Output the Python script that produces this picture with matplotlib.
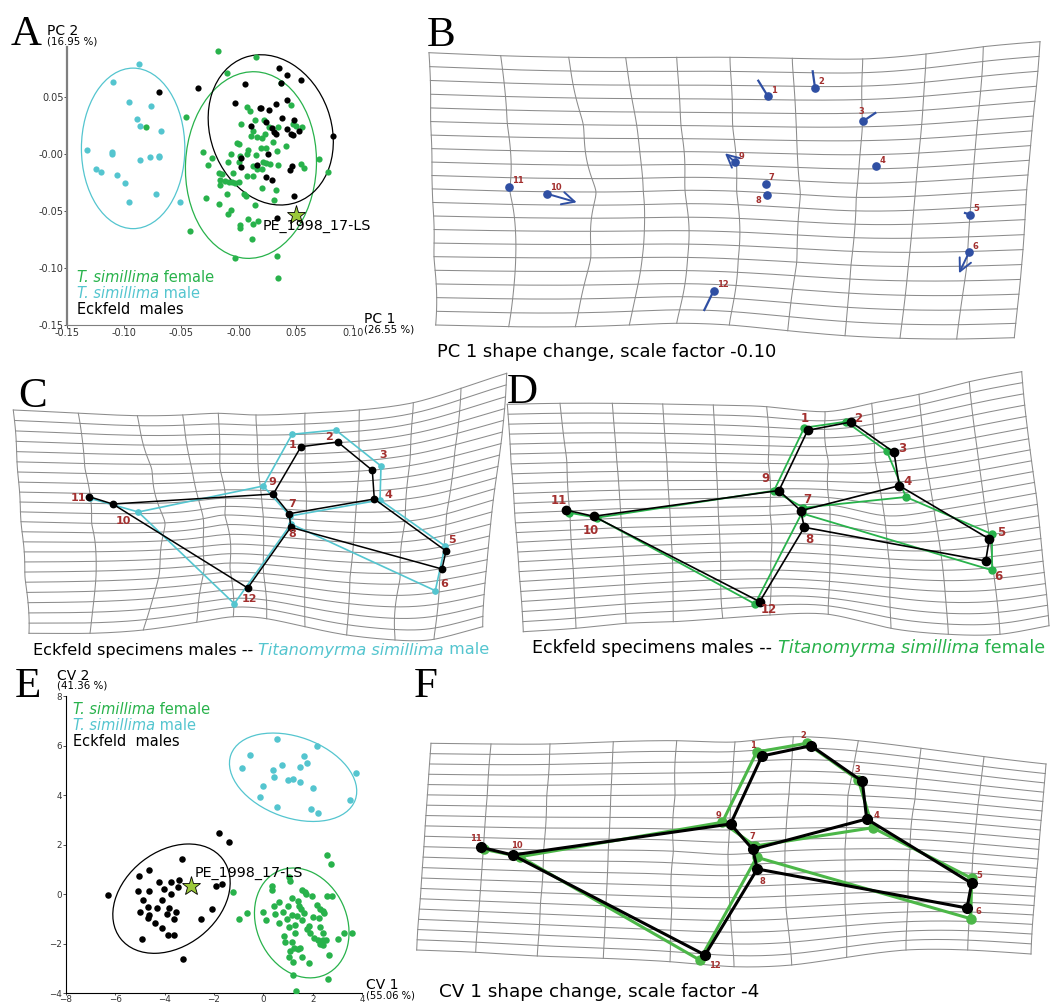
import numpy as np
import matplotlib.pyplot as plt
from matplotlib.patches import Ellipse

W, H = 1059, 1006

GREEN = '#28b24b'
GREEN_F = '#4cb748'
CYAN = '#54c5cf'
BLUE = '#2f4fa3'
RED = '#a3302f'
GRID = '#8c8c8c'
STAR = '#9bc83a'

# ---------------- A : PCA scores ----------------
pca_fem_x = [-0.0184, 0.0152, -0.0105, 0.0368, -0.0458, 0.0070, 0.0099, 0.0455, 0.0018, 0.0146,
             0.0219, 0.0268, 0.0347, 0.0473, 0.0505, 0.0557, 0.0123, 0.0111, 0.0160, 0.0201,
             0.0230, 0.0298, 0.0411, -0.0018, 0.0000, 0.0195, 0.0239, 0.0085, 0.0070, 0.0152,
             0.0335, -0.0070, 0.0012, -0.0312, -0.0233, -0.0265, -0.0090, 0.0006, 0.0216, 0.0236,
             0.0271, 0.0347, 0.0543, 0.0569, 0.0706, 0.0782, -0.0172, -0.0149, -0.0047, 0.0125,
             0.0158, 0.0070, 0.0123, 0.0201, -0.0163, -0.0117, -0.0061, -0.0029, -0.0085, 0.0006,
             0.0207, 0.0330, -0.0166, -0.0102, 0.0050, 0.0064, -0.0289, -0.0172, 0.0143, 0.0306,
             -0.0070, -0.0093, 0.0082, 0.0166, 0.0009, 0.0009, 0.0123, 0.0117, -0.0426, -0.0029,
             0.0335, 0.0341, -0.0811]
pca_fem_y = [0.0902, 0.0849, 0.0706, 0.0619, 0.0324, 0.0406, 0.0371, 0.0426, 0.0257, 0.0292,
             0.0292, 0.0236, 0.0234, 0.0263, 0.0239, 0.0236, 0.0201, 0.0152, 0.0143, 0.0137,
             0.0172, 0.0102, 0.0064, 0.0093, 0.0085, 0.0053, 0.0053, 0.0035, -0.0006, -0.0012,
             0.0023, -0.0006, -0.0018, 0.0012, -0.0038, -0.0099, -0.0073, -0.0070, -0.0070, -0.0079,
             -0.0088, -0.0102, -0.0088, -0.0126, -0.0044, -0.0158, -0.0169, -0.0175, -0.0172, -0.0111,
             -0.0134, -0.0193, -0.0193, -0.0131, -0.0231, -0.0236, -0.0245, -0.0260, -0.0248, -0.0248,
             -0.0304, -0.0315, -0.0274, -0.0356, -0.0353, -0.0368, -0.0391, -0.0438, -0.0450, -0.0403,
             -0.0496, -0.0528, -0.0572, -0.0587, -0.0625, -0.0654, -0.0619, -0.0747, -0.0680, -0.0911,
             -0.0899, -0.1086, 0.0231]
pca_male_x = [-0.0872, -0.1097, -0.0954, -0.0767, -0.0887, -0.0863, -0.0680, -0.1324, -0.1111, -0.1111,
              -0.0858, -0.0776, -0.0694, -0.0694, -0.1243, -0.1199, -0.1059, -0.0995, -0.0723, -0.0954,
              -0.0510]
pca_male_y = [0.0788, 0.0625, 0.0450, 0.0415, 0.0304, 0.0239, 0.0196, 0.0029, 0.0012, -0.0006,
              -0.0055, -0.0029, -0.0018, -0.0029, -0.0131, -0.0158, -0.0190, -0.0257, -0.0356, -0.0420,
              -0.0426]
pca_eck_x = [-0.0694, -0.0356, 0.0055, 0.0356, 0.0426, 0.0545, 0.0368, -0.0035, 0.0187, 0.0198,
             0.0330, 0.0420, 0.0268, 0.0379, 0.0484, 0.0108, 0.0242, 0.0292, 0.0309, 0.0327,
             0.0420, 0.0455, 0.0478, 0.0528, 0.0828, 0.0023, 0.0160, 0.0020, 0.0260, 0.0467,
             0.0449, 0.0236, 0.0295, 0.0484, 0.0338]
pca_eck_y = [0.0543, 0.0578, 0.0613, 0.0750, 0.0689, 0.0642, 0.0622, 0.0447, 0.0397, 0.0403,
             0.0432, 0.0473, 0.0379, 0.0315, 0.0292, 0.0242, 0.0274, 0.0222, 0.0193, 0.0169,
             0.0216, 0.0169, 0.0166, 0.0196, 0.0152, -0.0041, -0.0099, -0.0117, 0.0000, -0.0111,
             -0.0146, -0.0204, -0.0234, -0.0371, -0.0560]
pca_star = (0.0502, -0.0534)
pca_xticks = [-0.15, -0.10, -0.05, 0.0, 0.05, 0.10]
pca_xlabels = ['-0.15', '-0.10', '-0.05', '-0.00', '0.05', '0.10']
pca_yticks = [-0.15, -0.10, -0.05, 0.0, 0.05]
pca_ylabels = ['-0.15', '-0.10', '-0.05', '-0.00', '0.05']
# confidence ellipses: centre x, centre y, width, height, angle
pca_ell_male = (-0.0922, 0.0047, 0.0904, 0.1406, 0)
pca_ell_fem = (0.0108, -0.0099, 0.1144, 0.1636, -3)
pca_ell_eck = (0.0281, 0.0209, 0.1056, 0.1347, 20)

# ---------------- E : CVA scores ----------------
cva_fem_x = [2.58, 2.74, 1.02, 1.07, 0.35, 0.35, -1.23, 1.56, 1.67, 1.73, 1.98, 2.59, 2.79, 1.16,
             1.39, 1.44, 0.61, 1.00, 0.42, 1.54, 2.16, 2.27, 2.39, 2.46, 1.66, 0.47, -0.01, -0.67,
             -0.98, 0.12, 0.81, 1.15, 1.35, 2.01, 2.23, 0.97, 1.58, 0.65, 1.29, 1.86, 1.77, 1.02,
             2.27, 1.89, 1.27, 0.85, 2.41, 2.05, 2.21, 2.33, 2.43, 2.53, 2.27, 2.40, 3.01, 3.26,
             3.60, 0.86, 1.15, 1.25, 1.38, 1.48, 1.08, 1.04, 1.55, 2.64, 1.19, 1.83, 1.19, 2.60, 1.31]
cva_fem_y = [1.60, 1.22, 0.69, 0.55, 0.34, 0.15, 0.08, 0.15, 0.08, 0.01, -0.09, -0.07, -0.09, -0.17,
             -0.27, -0.46, -0.32, -0.46, -0.47, -0.58, -0.44, -0.58, -0.66, -0.74, -0.77, -0.81, -0.70, -0.77,
             -1.00, -1.04, -0.71, -0.83, -0.87, -0.92, -0.97, -1.01, -1.06, -1.18, -1.25, -1.27, -1.39, -1.31,
             -1.31, -1.55, -1.56, -1.70, -1.57, -1.75, -1.86, -1.98, -1.84, -1.84, -2.03, -2.06, -1.79, -1.55,
             -1.57, -1.94, -1.94, -2.17, -2.21, -2.17, -2.31, -2.53, -2.53, -2.44, -2.72, -2.79, -3.27, -3.42, -3.92]
cva_male_x = [0.55, 2.18, -0.55, 1.63, 1.75, 0.77, 1.48, -0.85, 0.38, 0.43, 3.74, 1.00, 1.19, 1.48,
              0.00, 2.00, -0.15, 0.54, 1.94, 2.21, 3.49]
cva_male_y = [6.27, 5.98, 5.61, 5.57, 5.28, 5.21, 5.14, 5.10, 5.02, 4.75, 4.90, 4.60, 4.67, 4.51,
              4.35, 4.28, 3.94, 3.51, 3.45, 3.26, 3.80]
cva_eck_x = [-6.30, -5.03, -4.65, -5.07, -4.65, -4.88, -4.98, -4.67, -4.62, -4.66, -4.90, -4.23, -4.02,
             -4.11, -4.29, -4.37, -4.11, -3.91, -3.88, -3.61, -3.61, -3.82, -3.74, -3.74, -3.53, -3.47,
             -3.40, -3.30, -3.26, -2.51, -2.10, -1.93, -1.69, -1.78, -1.40]
cva_eck_y = [-0.03, 0.75, 0.97, 0.11, 0.11, -0.23, -0.73, -0.50, -0.85, -0.96, -1.80, 0.48, 0.22,
             -0.23, -0.55, -1.18, -1.35, -0.81, -1.66, -1.66, -1.02, -0.54, 0.00, 0.48, -0.70, 0.30,
             0.58, 1.41, -2.61, -1.01, -0.61, 0.32, 0.40, 2.46, 2.11]
cva_star = (-2.94, 0.34)
cva_ticks_x = [-8, -6, -4, -2, 0, 2, 4]
cva_ticks_y = [-4, -2, 0, 2, 4, 6, 8]
cva_ell_male = (1.20, 4.72, 5.35, 3.26, -20)
cva_ell_fem = (1.55, -1.16, 3.64, 4.59, 25)
cva_ell_eck = (-3.72, -0.18, 5.23, 3.83, 38)

# ---------------- landmark configurations (figure pixels), landmarks 1..12 ----------------
LINKS = [(11, 10), (10, 9), (9, 1), (1, 2), (2, 3), (3, 4), (4, 7), (9, 7), (7, 8), (8, 12),
         (12, 10), (4, 5), (5, 6), (6, 8)]

b_x = [767.7, 815.0, 863.3, 876.3, 970.3, 969.0, 765.7, 766.7, 735.3, 546.7, 509.3, 713.7]
b_y = [96.0, 87.7, 121.0, 166.3, 214.7, 252.3, 184.3, 194.7, 162.3, 193.7, 186.7, 290.7]
b_end_x = [758.3, 812.7, 875.3, 878.0, 965.0, 959.0, 765.7, 766.7, 725.0, 576.7, 509.3, 704.3]
b_end_y = [80.7, 71.3, 113.0, 165.3, 213.0, 273.3, 184.3, 194.7, 153.3, 202.3, 186.7, 310.0]
b_arrows = [6, 9, 10]

c_blk_x = [301.0, 337.7, 372.3, 374.3, 446.0, 442.0, 289.3, 290.7, 273.3, 112.7, 89.3, 247.7]
c_blk_y = [446.7, 442.0, 470.3, 499.0, 551.0, 569.0, 513.7, 527.3, 494.0, 504.0, 496.7, 588.0]
c_cyn_x = [292.0, 335.7, 381.0, 380.0, 445.0, 435.3, 290.0, 291.0, 263.3, 138.3, 90.0, 234.3]
c_cyn_y = [434.3, 430.0, 466.0, 500.0, 546.0, 590.7, 516.0, 524.0, 486.0, 512.0, 498.3, 603.7]

d_blk_x = [807.7, 851.0, 894.0, 899.3, 989.3, 985.7, 800.7, 804.3, 779.0, 593.7, 565.7, 759.7]
d_blk_y = [430.3, 422.0, 452.3, 485.7, 539.0, 561.0, 510.7, 527.3, 490.5, 516.3, 510.0, 601.7]
d_grn_x = [804.3, 846.0, 886.7, 906.0, 992.3, 992.3, 803.3, 801.7, 774.0, 596.7, 569.0, 755.0]
d_grn_y = [427.7, 421.7, 451.0, 497.0, 534.3, 570.3, 507.7, 513.3, 490.7, 517.7, 512.7, 604.0]

f_blk_x = [762.0, 811.0, 862.3, 866.7, 971.7, 967.0, 752.7, 757.3, 730.5, 512.7, 481.0, 705.0]
f_blk_y = [756.0, 745.7, 781.3, 819.0, 883.3, 908.0, 849.3, 869.0, 824.0, 855.0, 847.3, 955.0]
f_grn_x = [756.7, 806.7, 858.3, 872.7, 971.7, 970.7, 755.0, 756.7, 722.3, 520.0, 483.7, 699.7]
f_grn_y = [752.0, 743.3, 780.0, 827.7, 878.3, 918.7, 846.0, 857.3, 822.3, 856.7, 849.3, 960.0]

# ---------------- deformation grids: node positions on 11 grid columns ----------------
# x at 5 heights (top, 1/4, 1/2, 3/4, bottom), y at 3 heights (top, middle, bottom)
b_grid_x = [[429.0, 500.7, 568.7, 625.7, 676.7, 730.0, 792.3, 862.7, 926.0, 983.3, 1040.0],
            [430.7, 507.3, 583.3, 636.7, 681.0, 732.7, 796.3, 862.3, 921.7, 977.7, 1033.3],
            [432.3, 510.0, 596.0, 643.3, 685.0, 736.7, 800.3, 856.3, 915.0, 971.7, 1026.7],
            [434.0, 515.7, 590.7, 642.3, 687.7, 738.3, 796.7, 851.0, 908.3, 966.7, 1021.7],
            [435.7, 508.7, 575.3, 629.3, 676.7, 729.3, 787.7, 845.0, 900.0, 956.7, 1014.3]]
b_grid_y = [[52.7, 55.7, 57.3, 57.7, 57.3, 57.3, 58.3, 59.0, 54.0, 46.7, 41.7],
            [188.9, 191.2, 192.0, 191.4, 190.3, 191.2, 194.5, 197.4, 196.2, 192.9, 189.7],
            [325.0, 326.7, 326.7, 325.0, 323.3, 325.0, 330.7, 335.7, 338.3, 339.0, 337.7]]
b_rows = 20

c_grid_x = [[13.3, 78.3, 137.3, 182.7, 218.3, 256.0, 305.0, 359.3, 413.3, 461.0, 506.7],
            [17.3, 85.0, 151.7, 191.7, 220.0, 258.3, 305.0, 359.3, 410.0, 455.0, 501.7],
            [21.0, 91.7, 165.0, 203.3, 225.0, 263.3, 306.0, 355.0, 405.0, 446.7, 493.3],
            [25.0, 96.0, 159.3, 204.0, 230.0, 263.3, 305.0, 350.0, 400.0, 440.0, 486.7],
            [29.0, 90.0, 143.3, 196.7, 233.3, 266.7, 305.0, 346.7, 395.0, 434.0, 482.7]]
c_grid_y = [[410.0, 413.3, 415.7, 415.0, 413.3, 415.0, 413.3, 410.0, 402.7, 388.3, 373.3],
            [521.7, 523.3, 522.9, 518.7, 515.0, 516.9, 520.0, 522.5, 521.4, 513.8, 500.0],
            [633.3, 633.3, 630.0, 622.3, 616.7, 618.7, 626.7, 635.0, 640.0, 639.3, 626.7]]
c_rows = 22

d_grid_x = [[507.3, 560.0, 612.3, 662.7, 713.3, 766.7, 825.0, 871.7, 919.0, 969.3, 1021.7],
            [511.0, 566.7, 616.7, 666.7, 716.0, 768.3, 828.3, 875.0, 925.0, 976.7, 1028.3],
            [515.0, 570.0, 620.7, 670.0, 718.3, 770.0, 830.0, 885.0, 935.0, 985.0, 1036.7],
            [519.3, 573.3, 624.0, 672.7, 720.7, 770.7, 830.0, 890.0, 943.3, 993.3, 1043.3],
            [523.3, 576.0, 626.0, 673.3, 722.7, 770.0, 828.3, 891.0, 948.3, 1000.0, 1049.0]]
d_grid_y = [[404.3, 403.3, 403.3, 404.0, 405.0, 406.7, 411.7, 403.3, 394.3, 381.7, 371.7],
            [518.0, 515.8, 513.3, 512.9, 511.7, 510.9, 509.0, 521.0, 516.0, 508.0, 498.7],
            [631.7, 628.3, 623.3, 621.7, 618.3, 615.0, 614.3, 628.3, 634.3, 634.3, 625.7]]
d_rows = 23

f_grid_x = [[431.0, 491.0, 550.0, 613.3, 676.7, 735.0, 793.3, 858.3, 921.0, 984.0, 1046.0],
            [427.4, 487.2, 546.8, 610.8, 675.0, 731.0, 789.0, 848.0, 915.0, 978.0, 1042.0],
            [423.9, 483.4, 543.7, 608.3, 673.3, 728.0, 785.0, 845.0, 910.0, 973.0, 1038.0],
            [420.3, 479.6, 540.5, 605.8, 671.7, 730.0, 786.0, 845.0, 908.0, 970.0, 1034.0],
            [416.7, 475.7, 537.3, 603.3, 670.0, 734.0, 791.7, 846.7, 906.0, 967.7, 1031.0]]
f_grid_y = [[743.3, 744.0, 744.0, 741.7, 740.7, 742.0, 736.7, 740.7, 748.3, 756.7, 764.0],
            [846.7, 848.2, 850.0, 850.0, 851.2, 854.4, 850.9, 849.0, 849.2, 853.4, 859.0],
            [950.0, 952.3, 956.0, 958.3, 961.7, 966.7, 965.0, 957.3, 950.0, 950.0, 954.0]]
f_rows = 20

# label offsets (px) of landmark numbers from their landmark
b_lab_off = [(6, -6), (6, -6), (-2, -10), (6, -6), (6, -6), (6, -6), (6, -7), (-8, 6), (6, -6), (9, -6), (9, -6), (9, -6)]
c_lab_off = [(-8, -2), (-9, -5), (11, -15), (14, -4), (6, -11), (2, 15), (3, -10), (2, 7), (-1, -12), (11, 17), (-11, 1), (2, 11)]
d_lab_off = [(-3, -12), (7, -4), (8, -4), (8, -4), (12, -6), (13, 15), (7, -11), (5, 12), (-14, -12), (-3, 14), (-7, -10), (9, 8)]
f_lab_off = [(-9, -11), (-8, -10), (-5, -12), (10, -3), (8, -8), (11, 4), (0, -13), (5, 12), (-12, -9), (4, -9), (-5, -9), (10, 10)]


def tps_coef(src, val):
    n = len(src)
    d = np.linalg.norm(src[:, None] - src[None], axis=2)
    K = np.where(d > 0, d ** 2 * np.log(d + 1e-300), 0.0)
    P = np.column_stack([np.ones(n), src])
    A = np.zeros((n + 3, n + 3))
    A[:n, :n] = K
    A[:n, n:] = P
    A[n:, :n] = P.T
    return np.linalg.solve(A, np.concatenate([val, np.zeros(3)]))


def tps_eval(src, coef, q):
    d = np.linalg.norm(q[:, None] - src[None], axis=2)
    K = np.where(d > 0, d ** 2 * np.log(d + 1e-300), 0.0)
    n = len(src)
    return K @ coef[:n] + coef[n] + q @ coef[n + 1:]


def draw_grid(ax, gx, gy, nrows):
    gx, gy = np.array(gx), np.array(gy)
    u = np.linspace(0, 1, gx.shape[1])
    sx = np.array([(a, b) for b in np.linspace(0, 1, gx.shape[0]) for a in u])
    sy = np.array([(a, b) for b in np.linspace(0, 1, gy.shape[0]) for a in u])
    cx, cy = tps_coef(sx, gx.ravel()), tps_coef(sy, gy.ravel())
    lines = []
    for a in u:
        q = np.column_stack([np.full(80, a), np.linspace(0, 1, 80)])
        lines.append(q)
    for r in range(nrows + 1):
        q = np.column_stack([np.linspace(0, 1, 160), np.full(160, r / nrows)])
        lines.append(q)
    for q in lines:
        ax.plot(tps_eval(sx, cx, q), tps_eval(sy, cy, q), color=GRID, lw=0.75, zorder=1)


def draw_config(ax, xs, ys, color, lw, ms, z):
    for a, b in LINKS:
        ax.plot([xs[a - 1], xs[b - 1]], [ys[a - 1], ys[b - 1]], color=color, lw=lw, zorder=z,
                solid_capstyle='round')
    ax.plot(xs, ys, 'o', color=color, ms=ms, zorder=z + 0.5)


def draw_numbers(ax, xs, ys, offs, size):
    for i, (x, y) in enumerate(zip(xs, ys)):
        ax.text(x + offs[i][0], y + offs[i][1], str(i + 1), color=RED, fontsize=size,
                fontweight='bold', ha='center', va='center', zorder=6)


def rich_text(ax, x, y, parts, size):
    t = ax.text(x, y, parts[0][0], color=parts[0][1], style=parts[0][2], fontsize=size,
                va='center', ha='left')
    for s, col, st in parts[1:]:
        t = ax.annotate(s, xy=(1, 0), xycoords=t, va='bottom', ha='left', color=col,
                        style=st, fontsize=size)
    return t


def add_ellipse(ax, e, color):
    ax.add_patch(Ellipse((e[0], e[1]), e[2], e[3], angle=e[4], fill=False, ec=color, lw=0.9, zorder=2))


def style_scatter_axes(ax, left_lw, axis_color, lsize):
    for s in ['top', 'right']:
        ax.spines[s].set_visible(False)
    ax.spines['left'].set_linewidth(left_lw)
    ax.spines['left'].set_color(axis_color)
    ax.spines['bottom'].set_linewidth(0.8)
    ax.spines['bottom'].set_color(axis_color)
    ax.tick_params(labelsize=lsize, length=2, width=0.6, colors='#333333', pad=0.5)
    ax.set_facecolor('none')


fig = plt.figure(figsize=(W / 100, H / 100), dpi=100)
ax0 = fig.add_axes([0, 0, 1, 1])
ax0.set_xlim(0, W)
ax0.set_ylim(H, 0)
ax0.axis('off')

# panel letters
for letter, lx, ly in [('A', 11, 45), ('B', 427, 46), ('C', 18, 407), ('D', 507, 403), ('E', 15, 697), ('F', 414, 697)]:
    ax0.text(lx, ly, letter, fontsize=31, family='Liberation Serif', va='baseline', ha='left')

# ---- B ----
draw_grid(ax0, b_grid_x, b_grid_y, b_rows)
for i in range(12):
    if i + 1 in b_arrows:
        ax0.annotate('', xy=(b_end_x[i], b_end_y[i]), xytext=(b_x[i], b_y[i]),
                     arrowprops=dict(arrowstyle='->,head_length=0.9,head_width=0.45', color=BLUE,
                                     lw=1.4, shrinkA=0, shrinkB=0), zorder=4)
    else:
        ax0.plot([b_x[i], b_end_x[i]], [b_y[i], b_end_y[i]], color=BLUE, lw=1.6, zorder=4)
ax0.plot(b_x, b_y, 'o', color=BLUE, ms=5.2, zorder=5)
draw_numbers(ax0, b_x, b_y, b_lab_off, 6)
ax0.text(437, 352, 'PC 1 shape change, scale factor -0.10', fontsize=12.9, va='center')

# ---- C ----
draw_grid(ax0, c_grid_x, c_grid_y, c_rows)
draw_config(ax0, c_cyn_x, c_cyn_y, CYAN, 1.2, 3.8, 3)
draw_config(ax0, c_blk_x, c_blk_y, 'black', 1.1, 4.6, 4)
draw_numbers(ax0, c_blk_x, c_blk_y, c_lab_off, 8)
rich_text(ax0, 33, 650, [('Eckfeld specimens males -- ', 'black', 'normal'),
                         ('Titanomyrma simillima', CYAN, 'italic'), (' male', CYAN, 'normal')], 11.6)

# ---- D ----
draw_grid(ax0, d_grid_x, d_grid_y, d_rows)
draw_config(ax0, d_grn_x, d_grn_y, GREEN, 1.3, 5.0, 3)
draw_config(ax0, d_blk_x, d_blk_y, 'black', 1.2, 6.0, 4)
draw_numbers(ax0, d_blk_x, d_blk_y, d_lab_off, 8.5)
rich_text(ax0, 532, 648, [('Eckfeld specimens males -- ', 'black', 'normal'),
                          ('Titanomyrma simillima', GREEN, 'italic'), (' female', GREEN, 'normal')], 12.6)

# ---- F ----
draw_grid(ax0, f_grid_x, f_grid_y, f_rows)
draw_config(ax0, f_grn_x, f_grn_y, GREEN_F, 2.2, 6.5, 3)
draw_config(ax0, f_blk_x, f_blk_y, 'black', 2.2, 7.0, 4)
draw_numbers(ax0, f_blk_x, f_blk_y, f_lab_off, 6)
ax0.text(439, 992, 'CV 1 shape change, scale factor -4', fontsize=13.2, va='center')

# ---- A ----
axA = fig.add_axes([67 / W, 1 - 325 / H, (353 - 67) / W, (325 - 47) / H])
axA.set_xlim(-0.15, 0.10)
axA.set_ylim(-0.15, 0.0935)
style_scatter_axes(axA, 1.6, '#7f7f7f', 7)
axA.set_xticks(pca_xticks, pca_xlabels)
axA.set_yticks(pca_yticks, pca_ylabels)
axA.scatter(pca_male_x, pca_male_y, s=20, color=CYAN, lw=0, zorder=3)
axA.scatter(pca_fem_x, pca_fem_y, s=20, color=GREEN, lw=0, zorder=3)
axA.scatter(pca_eck_x, pca_eck_y, s=20, color='black', lw=0, zorder=4)
add_ellipse(axA, pca_ell_male, CYAN)
add_ellipse(axA, pca_ell_fem, GREEN)
add_ellipse(axA, pca_ell_eck, 'black')
axA.plot(*pca_star, marker='*', ms=14, color=STAR, mec='black', mew=0.6, zorder=5)
axA.annotate('PE_1998_17-LS', xy=pca_star, xytext=(-24, -8), textcoords='offset points',
             fontsize=10.3, va='center', zorder=6)
ax0.text(47, 35, 'PC 2', fontsize=10, va='baseline')
ax0.text(47, 44, '(16.95 %)', fontsize=7.4, va='baseline')
ax0.text(364, 323, 'PC 1', fontsize=10, va='baseline')
ax0.text(364, 332, '(26.55 %)', fontsize=7.4, va='baseline')
rich_text(ax0, 77, 277, [('T. simillima', GREEN, 'italic'), (' female', GREEN, 'normal')], 10.5)
rich_text(ax0, 77, 293, [('T. simillima', CYAN, 'italic'), (' male', CYAN, 'normal')], 10.5)
rich_text(ax0, 77, 309, [('Eckfeld  males', 'black', 'normal')], 10.5)

# ---- E ----
axE = fig.add_axes([65.7 / W, 1 - 993.3 / H, (362.3 - 65.7) / W, (993.3 - 696) / H])
axE.set_xlim(-8, 4)
axE.set_ylim(-4, 8)
style_scatter_axes(axE, 0.8, 'black', 6.3)
axE.set_xticks(cva_ticks_x)
axE.set_yticks(cva_ticks_y)
axE.tick_params(axis='x', length=1.5, pad=0)
axE.scatter(cva_male_x, cva_male_y, s=22, color=CYAN, lw=0, zorder=3)
axE.scatter(cva_fem_x, cva_fem_y, s=22, color=GREEN, lw=0, zorder=3)
axE.scatter(cva_eck_x, cva_eck_y, s=22, color='black', lw=0, zorder=4)
add_ellipse(axE, cva_ell_male, CYAN)
add_ellipse(axE, cva_ell_fem, GREEN)
add_ellipse(axE, cva_ell_eck, 'black')
axE.plot(*cva_star, marker='*', ms=14, color=STAR, mec='black', mew=0.6, zorder=5)
axE.annotate('PE_1998_17-LS', xy=cva_star, xytext=(3, 9), textcoords='offset points',
             fontsize=10.3, va='center', zorder=6)
ax0.text(57, 680, 'CV 2', fontsize=10, va='baseline')
ax0.text(57, 689, '(41.36 %)', fontsize=7.4, va='baseline')
ax0.text(366, 989, 'CV 1', fontsize=10, va='baseline')
ax0.text(366, 998, '(55.06 %)', fontsize=7.2, va='baseline')
rich_text(ax0, 73, 709, [('T. simillima', GREEN, 'italic'), (' female', GREEN, 'normal')], 10.5)
rich_text(ax0, 73, 726, [('T. simillima', CYAN, 'italic'), (' male', CYAN, 'normal')], 10.5)
rich_text(ax0, 73, 742, [('Eckfeld  males', 'black', 'normal')], 10.5)

fig.savefig('out.png', dpi=100)
